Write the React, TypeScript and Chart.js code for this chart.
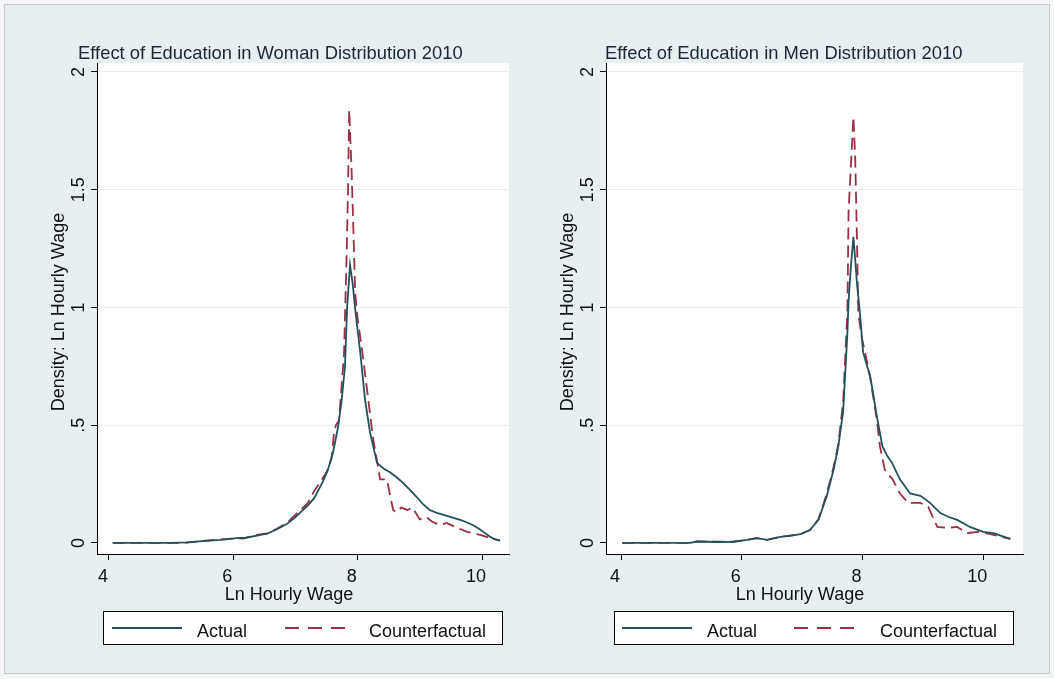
import React, { useEffect, useRef } from 'react';
import { Chart, registerables } from 'chart.js';

Chart.register(...registerables);

// ---------- data ----------
const womenActualX = [4.06, 4.5, 5.0, 5.25, 5.5, 5.8, 6.06, 6.2, 6.4, 6.55, 6.7, 6.86, 7.0, 7.1, 7.2, 7.3, 7.44, 7.52, 7.6, 7.683, 7.74, 7.796, 7.83, 7.877, 7.92, 7.957, 8.0, 8.037, 8.118, 8.198, 8.311, 8.42, 8.52, 8.62, 8.73, 8.84, 8.95, 9.05, 9.16, 9.27, 9.37, 9.5, 9.65, 9.75, 9.85, 9.95, 10.02, 10.13, 10.2, 10.29];
const womenActualY = [0, 0, 0, 0.002, 0.008, 0.013, 0.02, 0.022, 0.032, 0.04, 0.058, 0.08, 0.11, 0.135, 0.16, 0.19, 0.26, 0.31, 0.38, 0.49, 0.6, 0.75, 1.0, 1.18, 1.1, 1.0, 0.9, 0.82, 0.61, 0.47, 0.34, 0.315, 0.3, 0.28, 0.255, 0.225, 0.195, 0.165, 0.14, 0.128, 0.12, 0.11, 0.098, 0.088, 0.076, 0.06, 0.047, 0.026, 0.016, 0.01];

const womenCounterX = [4.06, 5.2, 5.5, 5.8, 6.06, 6.15, 6.4, 6.55, 6.7, 6.86, 7.0, 7.1, 7.2, 7.3, 7.4, 7.5, 7.58, 7.62, 7.65, 7.7, 7.78, 7.82, 7.845, 7.863, 7.9, 7.93, 7.96, 8.0, 8.07, 8.17, 8.25, 8.33, 8.36, 8.47, 8.57, 8.62, 8.7, 8.8, 8.88, 9.0, 9.1, 9.2, 9.32, 9.43, 9.6, 9.76, 9.97, 10.13, 10.29];
const womenCounterY = [0, 0, 0.008, 0.015, 0.02, 0.018, 0.035, 0.04, 0.06, 0.085, 0.12, 0.145, 0.17, 0.22, 0.26, 0.3, 0.36, 0.47, 0.5, 0.52, 0.8, 1.2, 1.5, 1.84, 1.6, 1.34, 1.06, 0.95, 0.82, 0.61, 0.44, 0.32, 0.27, 0.27, 0.14, 0.13, 0.15, 0.14, 0.15, 0.1, 0.11, 0.09, 0.076, 0.085, 0.064, 0.047, 0.034, 0.021, 0.01];

const menActualX = [4.02, 4.5, 5.14, 5.26, 5.6, 5.86, 6.09, 6.25, 6.42, 6.64, 6.8, 6.97, 7.13, 7.27, 7.41, 7.52, 7.6, 7.68, 7.75, 7.77, 7.81, 7.85, 7.88, 7.91, 7.96, 8.01, 8.13, 8.24, 8.33, 8.41, 8.49, 8.62, 8.79, 8.96, 9.12, 9.29, 9.43, 9.57, 9.78, 10.0, 10.17, 10.3, 10.45];
const menActualY = [0, 0, 0, 0.006, 0.004, 0.005, 0.013, 0.02, 0.013, 0.026, 0.03, 0.037, 0.055, 0.098, 0.2, 0.31, 0.41, 0.56, 0.89, 1.03, 1.18, 1.3, 1.2, 1.1, 0.97, 0.81, 0.705, 0.535, 0.41, 0.37, 0.34, 0.27, 0.21, 0.2, 0.17, 0.127, 0.11, 0.098, 0.068, 0.047, 0.042, 0.03, 0.017];

const menCounterX = [4.02, 5.14, 5.26, 5.86, 6.09, 6.25, 6.42, 6.64, 6.97, 7.13, 7.27, 7.41, 7.52, 7.6, 7.68, 7.75, 7.77, 7.85, 7.88, 7.91, 7.93, 7.99, 8.05, 8.13, 8.24, 8.29, 8.37, 8.5, 8.62, 8.76, 8.96, 9.09, 9.24, 9.4, 9.57, 9.73, 9.95, 10.17, 10.45];
const menCounterY = [0, 0, 0.006, 0.005, 0.013, 0.02, 0.013, 0.026, 0.037, 0.055, 0.1, 0.21, 0.32, 0.42, 0.6, 0.98, 1.41, 1.81, 1.63, 1.27, 0.98, 0.87, 0.8, 0.7, 0.52, 0.41, 0.31, 0.27, 0.21, 0.17, 0.17, 0.153, 0.068, 0.064, 0.068, 0.042, 0.047, 0.034, 0.017];

const yTicks = [0, 0.5, 1, 1.5, 2];
const yTickLabels = ['0', '.5', '1', '1.5', '2'];
const xTicks = [4, 6, 8, 10];
const panelTitles = ['Effect of Education in Woman Distribution 2010', 'Effect of Education in Men Distribution 2010'];
const seriesNames = ['Actual', 'Counterfactual'];
const xAxisTitle = 'Ln Hourly Wage';
const yAxisTitle = 'Density: Ln Hourly Wage';

// ---------- style / layout ----------
const FONT = "'Liberation Sans', Arial, Helvetica, sans-serif";
const ACTUAL_COLOR = '#24505c';
const COUNTER_COLOR = '#9b2f45';
const PANEL_W = 527;
const PANEL_H = 679;

type PanelLayout = {
  axisLeft: number;
  axisRight: number;
  xMin: number;
  xMax: number;
  titleX: number;
  legendBox: [number, number];
  solid: [number, number];
  actualTextX: number;
  dashed: [number, number];
  counterTextX: number;
  xTitleX: number;
};

const layouts: PanelLayout[] = [
  { axisLeft: 97, axisRight: 509, xMin: 3.807, xMax: 10.434, titleX: 78, legendBox: [103, 502], solid: [112, 182], actualTextX: 197, dashed: [285, 345], counterTextX: 369, xTitleX: 289 },
  { axisLeft: 79, axisRight: 496, xMin: 3.75, xMax: 10.66, titleX: 78, legendBox: [87, 486], solid: [95, 165], actualTextX: 180, dashed: [267, 330], counterTextX: 353, xTitleX: 273 },
];

const Y_MIN = -0.047;
const Y_MAX = 2.038;
const PLOT_TOP = 63;
const PLOT_BOTTOM = 554;

function makeChart(canvas: HTMLCanvasElement, idx: number) {
  const L = layouts[idx];
  const ax = idx === 0 ? womenActualX : menActualX;
  const ay = idx === 0 ? womenActualY : menActualY;
  const cx = idx === 0 ? womenCounterX : menCounterX;
  const cy = idx === 0 ? womenCounterY : menCounterY;

  const decor = {
    id: 'stataDecor' + idx,
    beforeDraw(chart: any) {
      const { ctx, chartArea } = chart;
      ctx.save();
      ctx.fillStyle = '#ffffff';
      ctx.fillRect(chartArea.left, chartArea.top, chartArea.right - chartArea.left, chartArea.bottom - chartArea.top);
      ctx.restore();
    },
    afterDraw(chart: any) {
      const { ctx, chartArea } = chart;
      const yScale = chart.scales.y;
      ctx.save();
      // title
      ctx.font = `18.4px ${FONT}`;
      ctx.fillStyle = '#1c2633';
      ctx.textAlign = 'left';
      ctx.textBaseline = 'alphabetic';
      ctx.fillText(panelTitles[idx], L.titleX, 59);

      ctx.font = `18px ${FONT}`;
      // rotated y tick labels
      ctx.fillStyle = '#111';
      ctx.textAlign = 'center';
      yTicks.forEach((v, i) => {
        const py = yScale.getPixelForValue(v);
        ctx.save();
        ctx.translate(chartArea.left - 13, py);
        ctx.rotate(-Math.PI / 2);
        ctx.fillText(yTickLabels[i], 0, 0);
        ctx.restore();
      });

      // y title
      ctx.save();
      ctx.translate(chartArea.left - 33, 312);
      ctx.rotate(-Math.PI / 2);
      ctx.textAlign = 'center';
      ctx.fillText(yAxisTitle, 0, 0);
      ctx.restore();

      // x title
      ctx.textAlign = 'center';
      ctx.fillText(xAxisTitle, L.xTitleX, 599.5);

      // legend
      const [b0, b1] = L.legendBox;
      ctx.fillStyle = '#ffffff';
      ctx.fillRect(b0, 611, b1 - b0, 33);
      ctx.strokeStyle = '#000';
      ctx.lineWidth = 1;
      ctx.strokeRect(b0 + 0.5, 611.5, b1 - b0, 33);

      ctx.lineWidth = 1.8;
      ctx.strokeStyle = ACTUAL_COLOR;
      ctx.setLineDash([]);
      ctx.beginPath();
      ctx.moveTo(L.solid[0], 628);
      ctx.lineTo(L.solid[1], 628);
      ctx.stroke();

      ctx.strokeStyle = COUNTER_COLOR;
      ctx.setLineDash([14, 9]);
      ctx.beginPath();
      ctx.moveTo(L.dashed[0], 628);
      ctx.lineTo(L.dashed[1], 628);
      ctx.stroke();
      ctx.setLineDash([]);

      ctx.fillStyle = '#111';
      ctx.textAlign = 'left';
      ctx.fillText(seriesNames[0], L.actualTextX, 636.5);
      ctx.fillText(seriesNames[1], L.counterTextX, 636.5);
      ctx.restore();
    },
  };

  return new Chart(canvas, {
    type: 'line',
    data: {
      datasets: [
        {
          label: seriesNames[0],
          data: ax.map((x, i) => ({ x, y: ay[i] })),
          borderColor: ACTUAL_COLOR,
          borderWidth: 1.8,
          pointRadius: 0,
          tension: 0,
          fill: false,
        },
        {
          label: seriesNames[1],
          data: cx.map((x, i) => ({ x, y: cy[i] })),
          borderColor: COUNTER_COLOR,
          borderWidth: 1.8,
          borderDash: [12, 6],
          pointRadius: 0,
          tension: 0,
          fill: false,
        },
      ],
    },
    options: {
      responsive: false,
      animation: false,
      events: [],
      layout: {
        autoPadding: false,
        padding: { left: L.axisLeft, right: PANEL_W - L.axisRight, top: PLOT_TOP, bottom: PANEL_H - PLOT_BOTTOM - 30 },
      },
      plugins: {
        legend: { display: false },
        title: { display: false },
        tooltip: { enabled: false },
      },
      scales: {
        x: {
          type: 'linear',
          min: L.xMin,
          max: L.xMax,
          afterFit: (s: any) => { s.height = 30; },
          afterBuildTicks: (s: any) => { s.ticks = xTicks.map((v) => ({ value: v })); },
          ticks: {
            font: { family: FONT, size: 18 },
            color: '#111',
            padding: 6,
            labelOffset: -6,
            maxRotation: 0,
            minRotation: 0,
            callback: (v: any) => String(v),
          },
          grid: { drawOnChartArea: false, tickLength: 6, tickColor: '#000', tickWidth: 1 },
          border: { display: true, color: '#000', width: 1 },
        },
        y: {
          type: 'linear',
          min: Y_MIN,
          max: Y_MAX,
          afterFit: (s: any) => { s.width = 0; },
          afterBuildTicks: (s: any) => { s.ticks = yTicks.map((v) => ({ value: v })); },
          ticks: { display: false },
          grid: {
            color: (c: any) => (c.tick && c.tick.value === 0 ? 'rgba(0,0,0,0)' : '#e9eff1'),
            lineWidth: 1,
            tickColor: '#000',
            tickLength: 6,
            tickWidth: 1,
          },
          border: { display: true, color: '#000', width: 1 },
        },
      },
    },
    plugins: [decor],
  } as any);
}

function Panel({ idx, left }: { idx: number; left: number }) {
  const ref = useRef<HTMLCanvasElement | null>(null);
  useEffect(() => {
    if (!ref.current) return;
    const chart = makeChart(ref.current, idx);
    return () => chart.destroy();
  }, [idx]);
  return (
    <canvas
      ref={ref}
      width={PANEL_W}
      height={PANEL_H}
      style={{ position: 'absolute', left, top: 0, width: PANEL_W, height: PANEL_H, display: 'block' }}
    />
  );
}

export default function App() {
  return (
    <div style={{ position: 'absolute', left: 0, top: 0, width: 1054, height: 679, background: '#f4f5f5', overflow: 'hidden' }}>
      <div
        style={{
          position: 'absolute',
          left: 4,
          top: 4,
          width: 1044,
          height: 668,
          border: '1px solid #c3c8ca',
          background: '#e8eff1',
        }}
      />
      <Panel idx={0} left={0} />
      <Panel idx={1} left={PANEL_W} />
    </div>
  );
}
